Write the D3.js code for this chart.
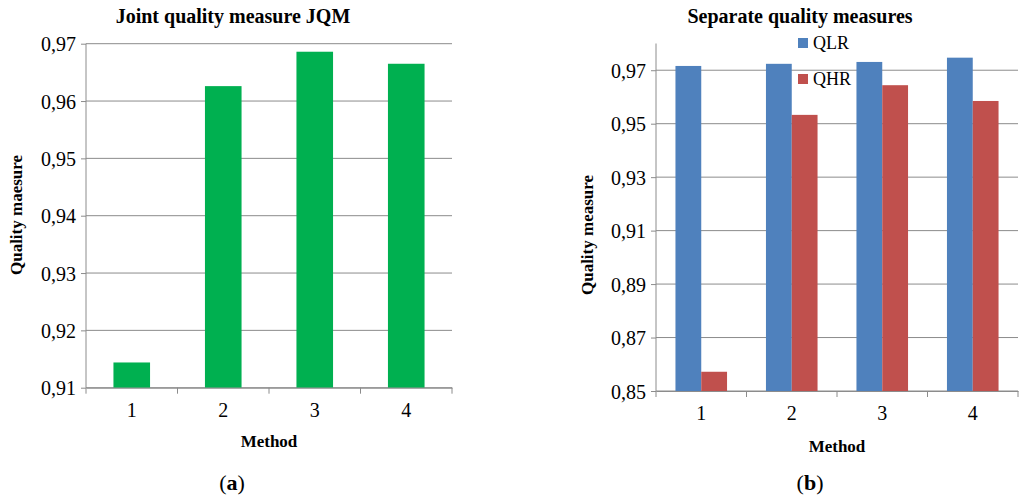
<!DOCTYPE html><html><head><meta charset="utf-8">
<script src="https://cdn.jsdelivr.net/npm/d3@7"></script>
<style>body{margin:0;background:#fff}text{font-family:"Liberation Serif","Times New Roman",serif;fill:#000}</style></head><body>
<svg id="c" width="1024" height="497"></svg>
<script>
const methods=["1","2","3","4"];
const jqm=[0.9144,0.9626,0.9686,0.9665];
const qlr=[0.9716,0.9724,0.9731,0.9747];
const qhr=[0.8572,0.9533,0.9644,0.9585];
const ticksA=[0.91,0.92,0.93,0.94,0.95,0.96,0.97];
const ticksB=[0.85,0.87,0.89,0.91,0.93,0.95,0.97];
const fmt=d=>d3.format(".2f")(d).replace(".",",");
const svg=d3.select("#c");
function frame(x0,x1,y,ticks,topY){
  const g=svg.append("g");
  ticks.forEach(t=>g.append("line").attr("x1",x0).attr("x2",x1).attr("y1",y(t)).attr("y2",y(t)).attr("stroke","#8c8c8c").attr("stroke-width",1));
  const ya=d3.axisLeft(y).tickValues(ticks).tickFormat(fmt).tickSize(5);
  const ga=g.append("g").attr("transform",`translate(${x0},0)`).call(ya);
  ga.select(".domain").attr("d",`M0,${topY}V${y.range()[0]}`).attr("stroke","#8c8c8c");
  ga.selectAll(".tick line").attr("stroke","#8c8c8c");
  ga.selectAll("text").attr("font-size",20).attr("font-family","Liberation Serif").attr("dx",-2).attr("dy","0.35em");
  return g;
}
function xaxis(x,y0){
  const ga=svg.append("g").attr("transform",`translate(0,${y0})`).call(d3.axisBottom(x).tickSizeOuter(0).tickSize(0));
  ga.select(".domain").attr("stroke","#8c8c8c");
  ga.selectAll("text").attr("font-size",20).attr("font-family","Liberation Serif").attr("dy","1.3em");
  const bw=x.step();
  [0,1,2,3,4].forEach(i=>ga.append("line").attr("x1",x.range()[0]+i*bw).attr("x2",x.range()[0]+i*bw).attr("y1",0).attr("y2",6).attr("stroke","#8c8c8c"));
}
// Chart A
const xA=d3.scaleBand().domain(methods).range([86,452]).paddingInner(0).paddingOuter(0);
const yA=d3.scaleLinear().domain([0.91,0.97]).range([387.7,43.7]);
frame(86,452,yA,ticksA,43.7);
svg.append("g").selectAll("rect").data(jqm).join("rect")
 .attr("x",(d,i)=>xA(methods[i])+xA.bandwidth()*0.3).attr("width",xA.bandwidth()*0.4)
 .attr("y",d=>yA(d)).attr("height",d=>yA(0.91)-yA(d)).attr("fill","#00b050");
xaxis(xA,387.7);
svg.append("text").attr("x",233).attr("y",23).attr("text-anchor","middle").attr("font-size",20).attr("font-weight","bold").text("Joint quality measure JQM");
svg.append("text").attr("transform","translate(22,215) rotate(-90)").attr("text-anchor","middle").attr("font-size",17).attr("font-weight","bold").text("Quality maesure");
svg.append("text").attr("x",269).attr("y",447).attr("text-anchor","middle").attr("font-size",17).attr("font-weight","bold").text("Method");
svg.append("text").attr("x",232).attr("y",490).attr("text-anchor","middle").attr("font-size",22).html('(<tspan font-weight="bold">a</tspan>)');
// Chart B
const xB=d3.scaleBand().domain(methods).range([656,1018]);
const yB=d3.scaleLinear().domain([0.85,0.98]).range([391,43.5]);
frame(656,1018,yB,ticksB,43.5);
const bw=xB.bandwidth()*0.285;
const gb=svg.append("g");
gb.selectAll(".q1").data(qlr).join("rect").attr("x",(d,i)=>xB(methods[i])+xB.bandwidth()/2-bw).attr("width",bw)
 .attr("y",d=>yB(d)).attr("height",d=>yB(0.85)-yB(d)).attr("fill","#4f81bd");
gb.selectAll(".q2").data(qhr).join("rect").attr("x",(d,i)=>xB(methods[i])+xB.bandwidth()/2).attr("width",bw)
 .attr("y",d=>yB(d)).attr("height",d=>yB(0.85)-yB(d)).attr("fill","#c0504d");
xaxis(xB,391);
svg.append("text").attr("x",800).attr("y",23).attr("text-anchor","middle").attr("font-size",20).attr("font-weight","bold").text("Separate quality measures");
svg.append("text").attr("transform","translate(593,235) rotate(-90)").attr("text-anchor","middle").attr("font-size",17).attr("font-weight","bold").text("Quality measure");
svg.append("text").attr("x",837).attr("y",452).attr("text-anchor","middle").attr("font-size",17).attr("font-weight","bold").text("Method");
svg.append("text").attr("x",810).attr("y",490).attr("text-anchor","middle").attr("font-size",22).html('(<tspan font-weight="bold">b</tspan>)');
[["QLR","#4f81bd",38],["QHR","#c0504d",74]].forEach(([t,c,y])=>{
  svg.append("rect").attr("x",798).attr("y",y).attr("width",10).attr("height",10).attr("fill",c);
  svg.append("text").attr("x",813).attr("y",y+11).attr("font-size",18).text(t);
});
</script></body></html>
